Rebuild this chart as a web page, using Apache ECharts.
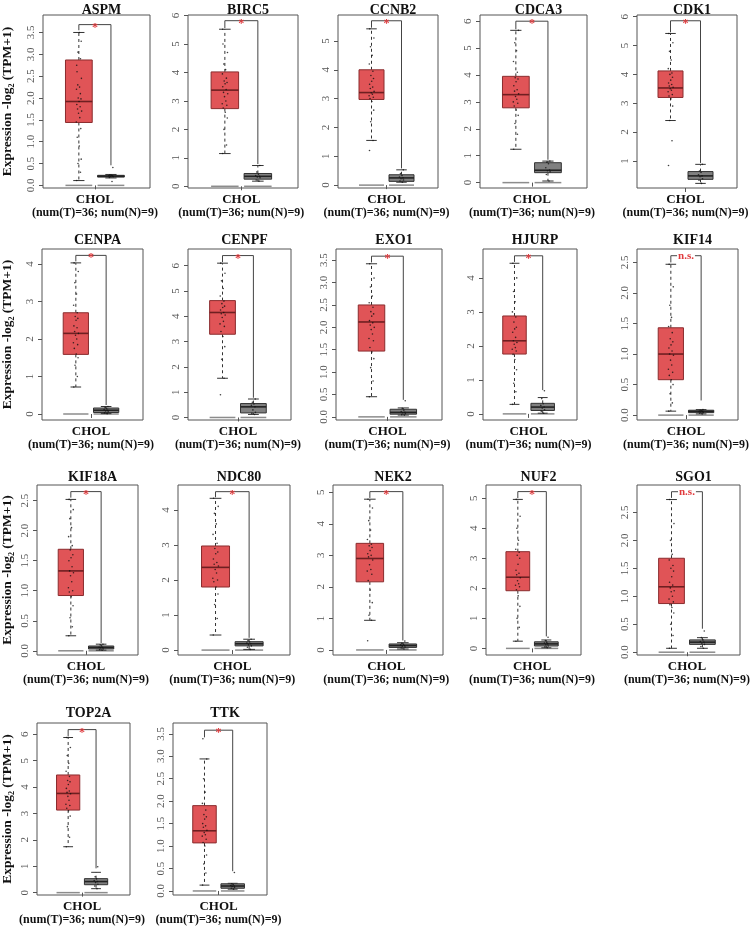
<!DOCTYPE html>
<html>
<head>
<meta charset="UTF-8">
<script src="https://cdn.jsdelivr.net/npm/echarts@6/dist/echarts.min.js"></script>
<style>
  html, body { margin: 0; padding: 0; background: #fff; }
  #main { width: 756px; height: 929px; }
</style>
</head>
<body>
<div id="main"></div>
<script>
// ---- data ----
var genes = ['ASPM', 'BIRC5', 'CCNB2', 'CDCA3', 'CDK1',
             'CENPA', 'CENPF', 'EXO1', 'HJURP', 'KIF14',
             'KIF18A', 'NDC80', 'NEK2', 'NUF2', 'SGO1',
             'TOP2A', 'TTK'];
var signif = ['*', '*', '*', '*', '*', '*', '*', '*', '*', 'n.s.',
              '*', '*', '*', '*', 'n.s.', '*', '*'];
var groupLabel = 'CHOL';
var countLabel = '(num(T)=36; num(N)=9)';

// [lower whisker, Q1, median, Q3, upper whisker]
var tumorBox = [
  [0.11, 1.44, 1.92, 2.87, 3.5], [1.15, 2.73, 3.38, 4.02, 5.52], [1.55, 2.97, 3.21, 4.0, 5.42],
  [1.24, 2.78, 3.27, 3.95, 5.66], [2.4, 3.2, 3.53, 4.12, 5.42], [0.72, 1.59, 2.15, 2.7, 4.03],
  [1.55, 3.29, 4.15, 4.62, 6.1], [0.45, 1.47, 2.12, 2.5, 3.42], [0.28, 1.76, 2.15, 2.88, 4.43],
  [0.065, 0.58, 1.0, 1.43, 2.47], [0.25, 0.92, 1.33, 1.69, 2.52], [0.43, 1.8, 2.36, 2.97, 4.33],
  [0.94, 2.16, 2.9, 3.38, 4.78], [0.24, 1.92, 2.37, 3.22, 4.96], [0.07, 0.87, 1.17, 1.68, 2.73],
  [1.74, 3.13, 3.76, 4.46, 5.88], [0.13, 1.07, 1.34, 1.9, 2.94]
];
var normalBox = [
  [0.17, 0.19, 0.21, 0.23, 0.25], [0.18, 0.25, 0.35, 0.45, 0.73], [0.1, 0.13, 0.25, 0.36, 0.53],
  [0.06, 0.37, 0.46, 0.74, 0.8], [0.22, 0.36, 0.48, 0.63, 0.88], [0.01, 0.04, 0.1, 0.16, 0.2],
  [0.12, 0.18, 0.42, 0.55, 0.73], [0.04, 0.06, 0.1, 0.17, 0.2], [0.02, 0.1, 0.2, 0.31, 0.48],
  [0.02, 0.04, 0.06, 0.08, 0.09], [0.01, 0.03, 0.055, 0.08, 0.11], [0.02, 0.12, 0.18, 0.24, 0.31],
  [0.03, 0.08, 0.14, 0.19, 0.23], [0.02, 0.08, 0.15, 0.22, 0.28], [0.07, 0.14, 0.18, 0.22, 0.26],
  [0.15, 0.3, 0.42, 0.53, 0.77], [0.04, 0.06, 0.11, 0.16, 0.17]
];
var yRange = [
  [-0.06, 3.9], [-0.06, 6.02], [-0.1, 5.9], [-0.2, 6.23], [0.06, 6.06],
  [-0.16, 4.4], [-0.1, 6.66], [-0.07, 3.75], [-0.18, 4.85], [-0.08, 2.72],
  [-0.07, 2.76], [-0.14, 4.71], [-0.16, 5.23], [-0.22, 5.44], [-0.05, 2.99],
  [-0.09, 6.43], [-0.09, 3.74]
];
var yTicks = [
  [0, 0.5, 1, 1.5, 2, 2.5, 3, 3.5], [0, 1, 2, 3, 4, 5, 6], [0, 1, 2, 3, 4, 5],
  [0, 1, 2, 3, 4, 5, 6], [1, 2, 3, 4, 5, 6], [0, 1, 2, 3, 4],
  [0, 1, 2, 3, 4, 5, 6], [0, 0.5, 1, 1.5, 2, 2.5, 3, 3.5], [0, 1, 2, 3, 4],
  [0, 0.5, 1, 1.5, 2, 2.5], [0, 0.5, 1, 1.5, 2, 2.5], [0, 1, 2, 3, 4],
  [0, 1, 2, 3, 4, 5], [0, 1, 2, 3, 4, 5], [0, 0.5, 1, 1.5, 2, 2.5],
  [0, 1, 2, 3, 4, 5, 6], [0, 0.5, 1, 1.5, 2, 2.5, 3, 3.5]
];
// [left foot, top, right foot] of the significance bracket
var bracket = [
  [3.55, 3.68, 0.46], [5.56, 5.82, 0.78], [5.46, 5.7, 0.58], [5.7, 6.0, 0.85], [5.46, 5.86, 0.93],
  [4.07, 4.23, 0.24], [6.14, 6.4, 0.78], [3.45, 3.59, 0.38], [4.47, 4.65, 0.7], [2.5, 2.61, 0.24],
  [2.55, 2.65, 0.13], [4.36, 4.52, 0.35], [4.82, 5.02, 0.3], [5.0, 5.22, 0.4], [2.76, 2.87, 0.42],
  [5.92, 6.18, 0.92], [3.42, 3.58, 0.44]
];
var tumorPts = [
  [0.11, 0.3, 0.5, 0.6, 0.9, 1.1, 1.3, 1.45, 1.55, 1.65, 1.7, 1.75, 1.8, 1.85, 1.92, 1.98, 2.0, 2.1, 2.2, 2.25, 2.3, 2.45, 2.6, 2.75, 2.9, 3.05, 3.3, 3.5],
  [1.15, 1.45, 2.0, 2.4, 2.6, 2.75, 2.85, 2.9, 3.0, 3.15, 3.25, 3.3, 3.4, 3.5, 3.6, 3.65, 3.7, 3.8, 3.95, 4.1, 4.3, 4.7, 5.0, 5.52],
  [1.2, 1.55, 2.2, 2.6, 2.9, 3.0, 3.05, 3.1, 3.15, 3.2, 3.25, 3.35, 3.4, 3.5, 3.6, 3.7, 3.8, 3.95, 4.2, 4.5, 4.8, 5.1, 5.42],
  [1.24, 1.8, 2.2, 2.5, 2.7, 2.85, 2.95, 3.0, 3.1, 3.2, 3.3, 3.4, 3.45, 3.6, 3.75, 3.85, 3.9, 4.1, 4.5, 4.9, 5.2, 5.66],
  [0.84, 1.7, 2.4, 2.9, 3.15, 3.25, 3.3, 3.4, 3.45, 3.5, 3.55, 3.6, 3.65, 3.7, 3.8, 3.9, 4.0, 4.05, 4.2, 4.5, 4.8, 5.1, 5.42],
  [0.72, 1.0, 1.3, 1.5, 1.6, 1.75, 1.85, 1.9, 2.0, 2.1, 2.15, 2.2, 2.3, 2.35, 2.5, 2.55, 2.6, 2.7, 2.9, 3.2, 3.5, 3.8, 4.03],
  [0.9, 1.55, 2.3, 2.8, 3.2, 3.4, 3.6, 3.7, 3.8, 3.95, 4.05, 4.1, 4.15, 4.25, 4.35, 4.4, 4.5, 4.6, 4.8, 5.1, 5.4, 5.7, 6.1],
  [0.45, 0.8, 1.1, 1.3, 1.45, 1.55, 1.7, 1.75, 1.85, 1.95, 2.0, 2.05, 2.1, 2.15, 2.25, 2.3, 2.35, 2.45, 2.55, 2.7, 2.9, 3.1, 3.42],
  [0.28, 0.65, 0.9, 1.3, 1.6, 1.75, 1.85, 1.9, 1.95, 2.05, 2.1, 2.15, 2.25, 2.4, 2.5, 2.55, 2.7, 2.85, 3.0, 3.3, 3.6, 4.0, 4.43],
  [0.065, 0.2, 0.35, 0.5, 0.58, 0.65, 0.7, 0.75, 0.82, 0.9, 0.98, 1.0, 1.05, 1.1, 1.15, 1.2, 1.25, 1.35, 1.45, 1.6, 1.8, 2.1, 2.47],
  [0.25, 0.4, 0.55, 0.75, 0.9, 0.98, 1.0, 1.05, 1.15, 1.25, 1.3, 1.33, 1.4, 1.5, 1.55, 1.6, 1.68, 1.75, 1.9, 2.05, 2.2, 2.35, 2.52],
  [0.43, 0.9, 1.3, 1.6, 1.8, 1.95, 2.0, 2.05, 2.2, 2.3, 2.4, 2.45, 2.5, 2.6, 2.75, 2.8, 2.9, 3.05, 3.3, 3.6, 3.9, 4.1, 4.33],
  [0.29, 0.94, 1.1, 1.5, 1.9, 2.2, 2.4, 2.5, 2.55, 2.7, 2.85, 2.95, 3.0, 3.05, 3.15, 3.25, 3.3, 3.35, 3.5, 3.8, 4.1, 4.5, 4.78],
  [0.24, 0.7, 1.0, 1.4, 1.75, 1.95, 2.05, 2.1, 2.15, 2.25, 2.35, 2.45, 2.5, 2.6, 2.8, 3.0, 3.1, 3.2, 3.3, 3.6, 4.0, 4.4, 4.96],
  [0.07, 0.3, 0.5, 0.7, 0.8, 0.85, 0.9, 0.95, 1.0, 1.08, 1.1, 1.15, 1.2, 1.25, 1.35, 1.45, 1.5, 1.55, 1.65, 1.75, 2.0, 2.3, 2.73],
  [1.74, 2.1, 2.5, 2.9, 3.1, 3.2, 3.3, 3.35, 3.5, 3.65, 3.75, 3.8, 3.85, 3.95, 4.1, 4.2, 4.25, 4.4, 4.6, 4.9, 5.2, 5.5, 5.88],
  [0.13, 0.4, 0.6, 0.8, 1.0, 1.08, 1.15, 1.22, 1.25, 1.3, 1.35, 1.42, 1.45, 1.5, 1.6, 1.65, 1.7, 1.8, 1.95, 2.2, 2.5, 2.94, 3.39]
];
var normalPts = [
  [0.09, 0.18, 0.2, 0.21, 0.22, 0.22, 0.23, 0.24, 0.41],
  [0.18, 0.22, 0.3, 0.33, 0.35, 0.38, 0.42, 0.5, 0.73],
  [0.1, 0.14, 0.18, 0.22, 0.25, 0.28, 0.33, 0.4, 0.53],
  [0.06, 0.3, 0.4, 0.44, 0.47, 0.55, 0.7, 0.76, 0.8],
  [0.22, 0.33, 0.38, 0.45, 0.48, 0.52, 0.6, 0.65, 0.88],
  [0.01, 0.03, 0.06, 0.08, 0.1, 0.12, 0.14, 0.17, 0.2],
  [0.12, 0.16, 0.2, 0.3, 0.42, 0.48, 0.53, 0.6, 0.73],
  [0.04, 0.05, 0.07, 0.09, 0.1, 0.12, 0.15, 0.19, 0.36],
  [0.02, 0.08, 0.12, 0.17, 0.2, 0.25, 0.3, 0.45, 0.68],
  [0.02, 0.03, 0.04, 0.05, 0.06, 0.06, 0.07, 0.08, 0.09],
  [0.01, 0.02, 0.03, 0.05, 0.055, 0.06, 0.08, 0.1, 0.11],
  [0.02, 0.08, 0.12, 0.15, 0.18, 0.2, 0.23, 0.27, 0.31],
  [0.03, 0.06, 0.09, 0.12, 0.14, 0.16, 0.18, 0.21, 0.28],
  [0.02, 0.05, 0.08, 0.12, 0.15, 0.18, 0.2, 0.26, 0.37],
  [0.07, 0.1, 0.14, 0.16, 0.18, 0.19, 0.22, 0.26, 0.38],
  [0.15, 0.25, 0.32, 0.38, 0.42, 0.46, 0.52, 0.6, 0.98],
  [0.04, 0.06, 0.08, 0.1, 0.11, 0.12, 0.14, 0.16, 0.41]
];

// ---- layout (px) ----
var rowY = [[15, 188], [249, 420], [485, 655], [723, 895]];
var titleY = [-2, 228, 465, 701];
var colX = [
  [43, 150], [188, 298], [338, 438], [480, 587], [637, 737],
  [42, 143], [188, 291], [336, 442], [483, 577], [637, 738],
  [37, 138], [178, 290], [333, 443], [486, 581], [637, 740],
  [37, 130], [173, 267]
];
// fixed horizontal spread of the dots (axis units)
var jitT = [-0.02, 0.015, -0.008, 0.022, 0.004, -0.015, 0.018, -0.024, 0.009, -0.003, 0.026, -0.012,
            0.012, -0.019, 0.002, 0.02, -0.006, 0.014, -0.022, 0.007, -0.01, 0.024, -0.017];
var jitN = [0.01, -0.015, 0.02, -0.005, 0.015, -0.02, 0.005, -0.01, 0.018];
var X_T = 0.335, X_N = 0.635, X_TICK = 0.485, HW = 0.125;
var FONT = '"Liberation Serif", "DejaVu Serif", serif';

function makeBox(p) {
  return function (params, api) {
    var x = api.value(0), kind = api.value(6);
    var hw = api.size([HW, 0])[0];
    var lo = api.coord([x, api.value(1)]), q1 = api.coord([x, api.value(2)]);
    var md = api.coord([x, api.value(3)]), q3 = api.coord([x, api.value(4)]);
    var hi = api.coord([x, api.value(5)]);
    var cx = md[0], cap = hw * 0.42;
    var fill = kind === 0 ? '#e05457' : '#808080';
    var edge = kind === 0 ? '#8a2c2e' : '#333333';
    var wcol = '#333';
    var kids = [];
    if (yRange[p][0] < 0) {
      var z = api.coord([x, 0]);
      kids.push({ type: 'line', shape: { x1: cx - hw, y1: z[1], x2: cx + hw, y2: z[1] },
        style: { stroke: '#8c8c8c', lineWidth: 1.5 } });
    }
    kids.push(
      { type: 'line', shape: { x1: cx, y1: q3[1], x2: cx, y2: hi[1] }, style: { stroke: wcol, lineWidth: 1, lineDash: [3, 3] } },
      { type: 'line', shape: { x1: cx, y1: q1[1], x2: cx, y2: lo[1] }, style: { stroke: wcol, lineWidth: 1, lineDash: [3, 3] } },
      { type: 'line', shape: { x1: cx - cap, y1: hi[1], x2: cx + cap, y2: hi[1] }, style: { stroke: wcol, lineWidth: 1 } },
      { type: 'line', shape: { x1: cx - cap, y1: lo[1], x2: cx + cap, y2: lo[1] }, style: { stroke: wcol, lineWidth: 1 } },
      { type: 'rect', shape: { x: cx - hw, y: q3[1], width: 2 * hw, height: q1[1] - q3[1] },
        style: { fill: fill, stroke: edge, lineWidth: 1 } },
      { type: 'line', shape: { x1: cx - hw, y1: md[1], x2: cx + hw, y2: md[1] },
        style: { stroke: kind === 0 ? '#6e1f21' : '#222', lineWidth: 1.6 } }
    );
    return { type: 'group', children: kids };
  };
}

function makeBracket(p) {
  return function (params, api) {
    var a = api.coord([api.value(0), api.value(2)]);
    var t1 = api.coord([api.value(0), api.value(3)]);
    var t2 = api.coord([api.value(1), api.value(3)]);
    var b = api.coord([api.value(1), api.value(4)]);
    var ns = signif[p] !== '*';
    return { type: 'group', children: [
      { type: 'polyline', shape: { points: [a, t1, t2, b] }, style: { stroke: '#444', lineWidth: 1, fill: null } },
      { type: 'text', x: (t1[0] + t2[0]) / 2, y: t1[1] + (ns ? 0 : 3),
        style: { text: signif[p], fill: '#e0393c', font: (ns ? 'bold 11px ' : 'bold 12px ') + FONT,
          align: 'center', verticalAlign: 'middle', backgroundColor: ns ? '#fff' : null, padding: ns ? [0, 1] : 0 } }
    ] };
  };
}

var grids = [], xAxes = [], yAxes = [], series = [], titles = [];
genes.forEach(function (g, p) {
  var r = p < 5 ? 0 : p < 10 ? 1 : p < 15 ? 2 : 3;
  var l = colX[p][0], rt = colX[p][1];
  var top = rowY[r][0], bot = rowY[r][1];
  var step = yTicks[p][1] - yTicks[p][0];
  grids.push({ left: l, top: top, width: rt - l, height: bot - top, show: true,
    borderColor: '#555', borderWidth: 1, backgroundColor: 'transparent' });
  titles.push({ text: g, left: (l + rt) / 2, top: titleY[r], textAlign: 'center',
    textStyle: { fontFamily: FONT, fontWeight: 'bold', fontSize: 14, color: '#111' } });
  xAxes.push({ type: 'value', gridIndex: p, min: 0, max: 1,
    axisLine: { show: false }, splitLine: { show: false },
    axisTick: { show: true, length: 4, customValues: [X_TICK], lineStyle: { color: '#555' } },
    axisLabel: { show: true, margin: 6, customValues: [X_TICK],
      formatter: function () { return '{c|' + groupLabel + '}\n{n|' + countLabel + '}'; },
      rich: {
        c: { fontFamily: FONT, fontWeight: 'bold', fontSize: 13, lineHeight: 12, color: '#111' },
        n: { fontFamily: FONT, fontWeight: 'bold', fontSize: 12, lineHeight: 13, color: '#111' }
      } } });
  var ya = { type: 'value', gridIndex: p, min: yRange[p][0], max: yRange[p][1],
    axisLine: { show: false }, splitLine: { show: false },
    axisTick: { show: true, length: 4, customValues: yTicks[p], lineStyle: { color: '#555' } },
    axisLabel: { show: true, rotate: 90, margin: 6, customValues: yTicks[p], color: '#555',
      fontFamily: FONT, fontSize: 11,
      formatter: function (v) { return step < 1 ? v.toFixed(1) : String(v); } } };
  if (p === 0 || p === 5 || p === 10 || p === 15) {
    ya.name = '{a|Expression -log}{s|2}{a| (TPM+1)}';
    ya.nameLocation = 'middle';
    ya.nameRotate = 90;
    ya.nameGap = l - 16;
    ya.nameTextStyle = { rich: {
      a: { fontFamily: FONT, fontWeight: 'bold', fontSize: 13.5, lineHeight: 16, color: '#111' },
      s: { fontFamily: FONT, fontWeight: 'bold', fontSize: 8, lineHeight: 8, verticalAlign: 'bottom', color: '#111' }
    } };
  }
  yAxes.push(ya);

  series.push({ type: 'custom', xAxisIndex: p, yAxisIndex: p, renderItem: makeBox(p), z: 2,
    data: [[X_T].concat(tumorBox[p], [0]), [X_N].concat(normalBox[p], [1])] });
  series.push({ type: 'custom', xAxisIndex: p, yAxisIndex: p, renderItem: makeBracket(p), z: 2,
    data: [[X_T, X_N].concat(bracket[p])] });
  var pts = [];
  tumorPts[p].forEach(function (v, i) { pts.push([X_T + jitT[i % jitT.length], v]); });
  normalPts[p].forEach(function (v, i) { pts.push([X_N + jitN[i % jitN.length], v]); });
  series.push({ type: 'scatter', xAxisIndex: p, yAxisIndex: p, data: pts, z: 3,
    symbol: 'circle', symbolSize: 1.6, itemStyle: { color: '#111' }, silent: true });
});

var chart = echarts.init(document.getElementById('main'));
chart.setOption({
  animation: false,
  title: titles,
  grid: grids,
  xAxis: xAxes,
  yAxis: yAxes,
  series: series
});
</script>
</body>
</html>
